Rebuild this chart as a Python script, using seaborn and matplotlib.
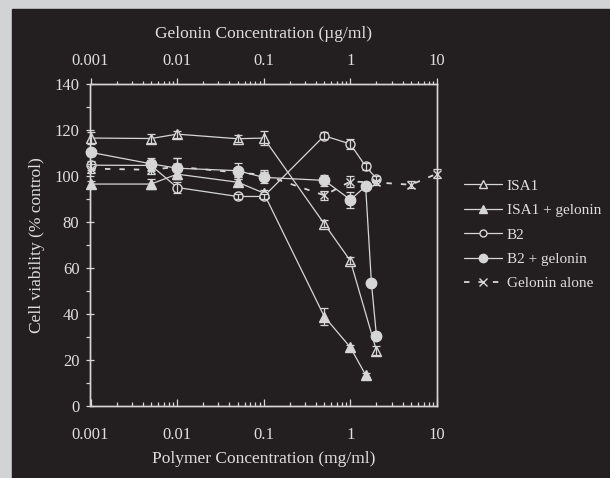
import pandas as pd
import matplotlib
matplotlib.use("Agg")
import matplotlib.pyplot as plt
from matplotlib.patches import Rectangle
from matplotlib.ticker import FixedLocator, FixedFormatter, LogLocator, NullFormatter, MultipleLocator
from matplotlib.lines import Line2D
import seaborn as sns

# ------------------------------------------------------------
# data (x in mg/ml, gelonin x in ug/ml)
# ------------------------------------------------------------
isa1_x = [0.001, 0.005, 0.01, 0.05, 0.1, 0.5, 1, 2]
isa1_y = [116.5, 116.3, 118.2, 116.2, 116.5, 79.2, 63.1, 24.1]
isa1_err = [2.5, 2, 1.5, 1.5, 3, 1.5, 1.5, 2]

isa1g_x = [0.001, 0.005, 0.01, 0.05, 0.1, 0.5, 1, 1.5]
isa1g_y = [96.5, 96.5, 100.8, 97.3, 92.6, 38.9, 25.5, 13.5]
isa1g_err = [1.5, 2, 2, 1.5, 1.5, 3.5, 1, 1]

b2_x = [0.001, 0.005, 0.01, 0.05, 0.1, 0.5, 1, 1.5, 2]
b2_y = [104.7, 104.6, 95.0, 91.1, 91.1, 117.5, 113.9, 104.2, 98.9]
b2_err = [2, 2.5, 2.5, 1, 1, 1.5, 2, 1.5, 1]

b2g_x = [0.001, 0.005, 0.01, 0.05, 0.1, 0.5, 1, 1.5, 1.75, 2]
b2g_y = [110.3, 105.3, 103.4, 102.3, 99.4, 98.1, 89.7, 95.5, 53.5, 30.5]
b2g_err = [1.5, 2.5, 4.5, 3.5, 2.5, 2.5, 3.5, 1, 1, 1.5]

gel_x = [0.001, 0.005, 0.01, 0.05, 0.1, 0.5, 1, 2, 5, 10]
gel_y = [103.2, 102.7, 104.0, 101.5, 100.5, 91.6, 97.6, 97.2, 96.2, 101.0]
gel_err = [2, 2, 4, 2, 2, 2, 2.5, 1, 1.5, 2]

yticks = [0, 20, 40, 60, 80, 100, 120, 140]
xticks = [0.001, 0.01, 0.1, 1, 10]
xticklabels = ["0.001", "0.01", "0.1", "1", "10"]

BG = "#231f20"
FG = "#d6d6d6"
TXT = "#dedede"

sns.set_style("dark")
plt.rcParams["font.family"] = ["Liberation Serif", "DejaVu Serif"]
plt.rcParams["font.size"] = 12

fig = plt.figure(figsize=(6.1, 4.78), dpi=100, facecolor="#d1d3d4")
panel = Rectangle((12 / 610, 0), 1 - 12 / 610, 1 - 9 / 478,
                  transform=fig.transFigure, color=BG, zorder=-10)
fig.patches.append(panel)

ax = fig.add_axes([90.5 / 610, 1 - 406 / 478, (437 - 90.5) / 610, (406 - 84) / 478])
ax.set_facecolor(BG)
ax.set_xscale("log")

series = [
    ("ISA1", isa1_x, isa1_y, isa1_err, "^", "open", 7.5),
    ("ISA1 + gelonin", isa1g_x, isa1g_y, isa1g_err, "^", "filled", 7.5),
    ("B2", b2_x, b2_y, b2_err, "o", "open", 6.5),
    ("B2 + gelonin", b2g_x, b2g_y, b2g_err, "o", "filled", 7.5),
]

handles = []
for name, xs, ys, es, mk, fill, ms in series:
    df = pd.DataFrame({"x": xs, "y": ys})
    mfc = BG if fill == "open" else FG
    sns.lineplot(data=df, x="x", y="y", ax=ax, color=FG, lw=0.9,
                 marker=mk, markersize=ms, markerfacecolor=mfc,
                 markeredgecolor=FG, markeredgewidth=1.0, clip_on=False, zorder=3)
    ax.errorbar(xs, ys, yerr=es, fmt="none", ecolor=FG, elinewidth=0.9,
                capsize=3, capthick=0.9, clip_on=False, zorder=3)
    handles.append(Line2D([], [], color=FG, lw=0.9, marker=mk, markersize=ms - 1.5,
                          markerfacecolor=mfc, markeredgecolor=FG))

# gelonin alone is on the top (ug/ml) axis
ax2 = ax.twiny()
ax2.set_xscale("log")
gdf = pd.DataFrame({"x": gel_x, "y": gel_y})
sns.lineplot(data=gdf, x="x", y="y", ax=ax2, color=FG, lw=1.3,
             marker="x", markersize=6, markeredgecolor=FG, markeredgewidth=1.0,
             clip_on=False, zorder=3)
ax2.lines[-1].set_dashes((3, 5))
ax2.errorbar(gel_x, gel_y, yerr=gel_err, fmt="none", ecolor=FG, elinewidth=0.9,
             capsize=3, capthick=0.9, clip_on=False, zorder=3)
handles.append(Line2D([], [], color=FG, lw=1.3, dashes=(3, 5), marker="x",
                      markersize=6, markeredgecolor=FG))

for a in (ax, ax2):
    a.set_xlim(0.001, 10)
    a.set_ylim(0, 140)
    a.grid(False)
    for s in a.spines.values():
        s.set_color(FG)
        s.set_linewidth(1.0)
        s.set_visible(True)
ax2.patch.set_visible(False)

ax.set_yticks(yticks)
ax.yaxis.set_minor_locator(MultipleLocator(10))
ax.xaxis.set_major_locator(FixedLocator(xticks))
ax.xaxis.set_major_formatter(FixedFormatter(xticklabels))
ax.xaxis.set_minor_locator(LogLocator(base=10, subs=range(2, 10)))
ax.xaxis.set_minor_formatter(NullFormatter())
ax2.xaxis.set_major_locator(FixedLocator(xticks))
ax2.xaxis.set_major_formatter(FixedFormatter(xticklabels))
ax2.xaxis.set_minor_locator(LogLocator(base=10, subs=range(2, 10)))
ax2.xaxis.set_minor_formatter(NullFormatter())

ax.tick_params(axis="y", which="major", direction="inout", length=6, width=0.9,
               color=FG, labelcolor=TXT, labelsize=12, pad=5, left=True)
ax.tick_params(axis="y", which="minor", direction="out", length=3, width=0.9,
               color=FG, left=True)
ax.tick_params(axis="x", which="major", direction="in", length=5, width=0.9,
               color=FG, labelcolor=TXT, labelsize=12, pad=15, bottom=True)
ax.tick_params(axis="x", which="minor", direction="in", length=3, width=0.9,
               color=FG, bottom=True)
ax2.tick_params(axis="x", which="major", direction="out", length=4, width=0.9,
                color=FG, labelcolor=TXT, labelsize=12, pad=7, top=True)
ax2.tick_params(axis="x", which="minor", direction="out", length=2.5, width=0.9,
                color=FG, top=True)
ax2.tick_params(axis="y", left=False, right=False, labelleft=False, labelright=False)

ax.set_xlabel("Polymer Concentration (mg/ml)", color=TXT, fontsize=12.5, labelpad=6)
ax2.set_xlabel("Gelonin Concentration (\u00b5g/ml)", color=TXT, fontsize=12.5, labelpad=10.5)
ax.set_ylabel("Cell viability (% control)", color=TXT, fontsize=12.5)
ax.yaxis.set_label_coords(-0.13, 0.5)

leg = fig.legend(handles, ["ISA1", "ISA1 + gelonin", "B2", "B2 + gelonin", "Gelonin alone"],
                 loc="upper left", bbox_to_anchor=(458 / 610, 1 - 173 / 478),
                 frameon=False, fontsize=11, handlelength=2.5, handletextpad=0.3,
                 labelspacing=0.7, borderaxespad=0)
for t in leg.get_texts():
    t.set_color(TXT)

fig.savefig("out.png", dpi=100, facecolor=fig.get_facecolor())
